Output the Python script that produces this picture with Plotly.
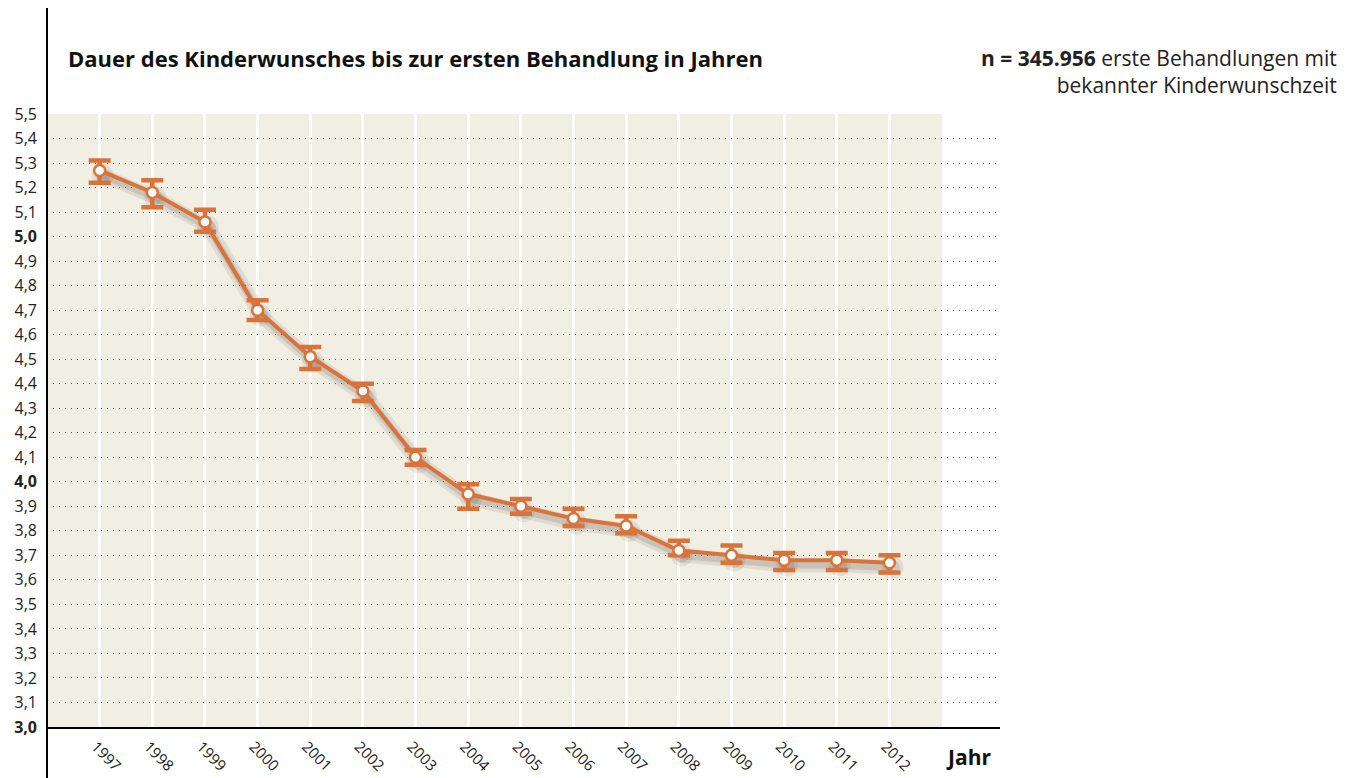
import plotly.graph_objects as go

years = list(range(1997, 2013))
mean_years = [5.27, 5.18, 5.06, 4.70, 4.51, 4.37, 4.10, 3.95, 3.90, 3.85, 3.82, 3.72, 3.70, 3.68, 3.68, 3.67]
upper = [5.31, 5.23, 5.11, 4.74, 4.55, 4.40, 4.13, 3.99, 3.93, 3.89, 3.86, 3.76, 3.74, 3.71, 3.71, 3.70]
lower = [5.22, 5.12, 5.02, 4.66, 4.46, 4.33, 4.07, 3.89, 3.87, 3.82, 3.79, 3.70, 3.67, 3.64, 3.64, 3.63]

y_ticks = [round(3.0 + 0.1 * i, 1) for i in range(26)]
y_ticktext = [("<b>%s</b>" % f"{v:.1f}".replace(".", ",")) if abs(v - round(v)) < 1e-9 else f"{v:.1f}".replace(".", ",") for v in y_ticks]

title_text = "<b>Dauer des Kinderwunsches bis zur ersten Behandlung in Jahren</b>"
n_text = "<b>n = 345.956</b> erste Behandlungen mit<br>bekannter Kinderwunschzeit"
axis_label = "<b>Jahr</b>"

ORANGE = "#d9733a"
BEIGE = "#f1eee4"
FONT = "Open Sans"

# the plot div sits inside the default 8px body margin
OFF = 8
W, H = 1354 - 2 * OFF, 778 - OFF
# plot area in page pixels: x 47..1000, y 114..727
L, T = 47 - OFF, 114 - OFF
R, B = W - (1000 - OFF), H - (727 - OFF)
PW, PH = W - L - R, H - T - B

X_RANGE = [1996, 2014.1]
Y_RANGE = [3.0, 5.5]
# drop shadow offset (pixels right / down), converted to axis units
SH_DX = 3 * (X_RANGE[1] - X_RANGE[0]) / PW
SH_DY = 5 * (Y_RANGE[1] - Y_RANGE[0]) / PH


def px(xpage):
    return (xpage - OFF - L) / PW


def py(ypage):
    return (H - B - (ypage - OFF)) / PH


err_plus = [u - m for u, m in zip(upper, mean_years)]
err_minus = [m - l for m, l in zip(mean_years, lower)]

fig = go.Figure()
# soft drop shadow on the (hidden, shifted) base axes
fig.add_trace(go.Scatter(
    x=years, y=mean_years, mode="lines+markers", xaxis="x", yaxis="y",
    line=dict(color="rgba(70,60,50,0.10)", width=14),
    marker=dict(size=22, color="rgba(70,60,50,0.09)"),
    showlegend=False, hoverinfo="skip",
))
fig.add_trace(go.Scatter(
    x=years, y=mean_years, mode="lines+markers", xaxis="x", yaxis="y",
    line=dict(color="rgba(70,60,50,0.15)", width=7),
    marker=dict(size=15, color="rgba(70,60,50,0.12)"),
    showlegend=False, hoverinfo="skip",
))
# main series on the visible axes
fig.add_trace(go.Scatter(
    x=years, y=mean_years, mode="lines+markers", xaxis="x2", yaxis="y2",
    line=dict(color=ORANGE, width=4),
    marker=dict(size=11, color="white", line=dict(color=ORANGE, width=2.5)),
    error_y=dict(type="data", symmetric=False, array=err_plus, arrayminus=err_minus,
                 color=ORANGE, thickness=4.5, width=11),
    showlegend=False, hoverinfo="x+y",
))

fig.update_layout(
    width=W, height=H,
    margin=dict(l=L, r=R, t=T, b=B, pad=0, autoexpand=False),
    paper_bgcolor="white", plot_bgcolor="white",
    font=dict(family=FONT, color="#1a1a1a"),
    xaxis=dict(range=[X_RANGE[0] - SH_DX, X_RANGE[1] - SH_DX], visible=False,
               automargin=False, fixedrange=True),
    yaxis=dict(range=[Y_RANGE[0] + SH_DY, Y_RANGE[1] + SH_DY], visible=False,
               automargin=False, fixedrange=True),
    xaxis2=dict(
        overlaying="x", anchor="y2",
        range=X_RANGE, tickmode="array", tickvals=years,
        ticktext=[str(y) for y in years], tickangle=45,
        tickfont=dict(size=15, color="#1a1a1a"),
        showgrid=True, gridcolor="white", gridwidth=3,
        showline=True, linecolor="black", linewidth=2,
        zeroline=False, ticks="", ticklabelstandoff=3, ticklabelshift=-4,
        automargin=False,
    ),
    yaxis2=dict(
        overlaying="y", anchor="x2", side="left",
        range=Y_RANGE, tickmode="array", tickvals=y_ticks, ticktext=y_ticktext,
        tickfont=dict(size=16, color="#222"),
        showgrid=True, gridcolor="#555", gridwidth=1, griddash="1px,5px",
        showline=False, zeroline=False, ticks="", ticklabelstandoff=9,
        automargin=False,
    ),
    shapes=[
        dict(type="rect", xref="x2", yref="y2", x0=1996, x1=2013, y0=3.0, y1=5.5,
             fillcolor=BEIGE, line=dict(width=0), layer="below"),
        dict(type="line", xref="paper", yref="paper", x0=0, x1=0,
             y0=py(800), y1=py(0), line=dict(color="black", width=2)),
    ],
    annotations=[
        dict(text=title_text, xref="paper", yref="paper", x=px(66), y=py(58),
             xanchor="left", yanchor="middle", showarrow=False,
             font=dict(size=22, color="#111", family=FONT)),
        dict(text=n_text, xref="paper", yref="paper", x=px(1339), y=py(71),
             xanchor="right", yanchor="middle", align="right", showarrow=False,
             font=dict(size=21, color="#222", family=FONT)),
        dict(text=axis_label, xref="paper", yref="paper", x=px(968), y=py(757),
             xanchor="center", yanchor="middle", showarrow=False,
             font=dict(size=21, color="#111", family=FONT)),
    ],
)

fig.write_html("out.html")
